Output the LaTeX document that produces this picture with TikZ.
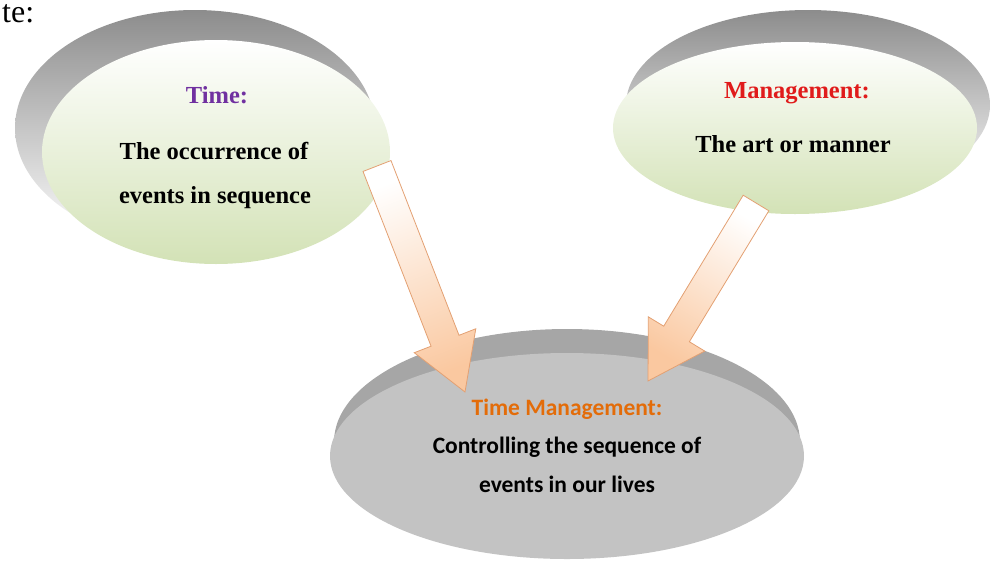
\documentclass[tikz,border=0pt]{standalone}
\usepackage{fontspec}
\setmainfont{Liberation Serif}
\newfontfamily\discsans{Carlito}
\usetikzlibrary{shapes.geometric,calc}

\definecolor{timepurple}{HTML}{7030A0}
\definecolor{mgmtred}{HTML}{E01B1B}
\definecolor{tmorange}{HTML}{E36C09}
\definecolor{palegreen}{HTML}{D3E2B6}
\definecolor{discgray}{HTML}{C3C3C3}
\definecolor{rimgray}{HTML}{A6A6A6}
\definecolor{peach}{HTML}{FAC8A0}
\definecolor{peachedge}{HTML}{E3A072}

\tikzset{
  greendisc/.style={ellipse, inner sep=0pt, top color=white, bottom color=palegreen},
  greyrim/.style={ellipse, inner sep=0pt, top color=black!45, bottom color=white},
  tmrimstyle/.style={ellipse, inner sep=0pt, fill=rimgray},
  tmdiscstyle/.style={ellipse, inner sep=0pt, fill=discgray},
  headtext/.style={anchor=base, font=\fontsize{24.5}{29}\selectfont\bfseries},
  bodytext/.style={anchor=base, font=\fontsize{24.5}{29}\selectfont\bfseries},
  sanstext/.style={anchor=base, font=\discsans\fontsize{23.5}{28}\selectfont\bfseries},
  bigarrowbody/.style={draw=peachedge, line width=0.8pt, top color=white, bottom color=peach}
}

% block arrow from tail coordinate to tip coordinate
\newcommand{\blockarrow}[2]{%
  \pgfmathanglebetweenpoints{\pgfpointanchor{#1}{center}}{\pgfpointanchor{#2}{center}}%
  \let\arrowangle\pgfmathresult
  \pgfpointdiff{\pgfpointanchor{#1}{center}}{\pgfpointanchor{#2}{center}}%
  \pgfgetlastxy{\arrowdx}{\arrowdy}%
  \pgfmathsetmacro{\arrowlen}{veclen(\arrowdx,\arrowdy)}%
  \pgfmathsetmacro{\arrowshade}{\arrowangle+90}%
  \begin{scope}[shift={(#1)}, rotate=\arrowangle]
    \shade[bigarrowbody, shading angle=\arrowshade] (0,-15) -- (\arrowlen-55,-15) -- (\arrowlen-55,-33)
      -- (\arrowlen,0) -- (\arrowlen-55,33) -- (\arrowlen-55,15) -- (0,15) -- cycle;
  \end{scope}}

\begin{document}
\begin{tikzpicture}[x=1pt, y=1pt]
    \useasboundingbox (0,0) rectangle (991,-563);

    % caption remnant
    \node[anchor=base west, inner sep=0pt, font=\fontsize{32}{36}\selectfont] (captiontail) at (2,-22) {te:};

    % top discs
    \node[greyrim, minimum width=360, minimum height=236] (timerim) at (195,-128) {};
    \node[greendisc, minimum width=348, minimum height=224] (timedisc) at (216,-152) {};
    \node[greyrim, minimum width=364, minimum height=190] (mgmtrim) at (808,-105) {};
    \node[greendisc, minimum width=364, minimum height=172] (mgmtdisc) at (795,-128) {};

    \node[headtext, text=timepurple] (timehead) at (217,-103) {Time:};
    \node[bodytext] (timeline1) at (214,-159) {The occurrence of};
    \node[bodytext] (timeline2) at (215,-203) {events in sequence};
    \node[headtext, text=mgmtred] (mgmthead) at (797,-98) {Management:};
    \node[bodytext] (mgmtline) at (793,-152) {The art or manner};

    % bottom disc
    \node[tmrimstyle, minimum width=466, minimum height=226] (tmrim) at (567,-442) {};
    \node[tmdiscstyle, minimum width=474, minimum height=206] (tmdisc) at (567,-456) {};

    % arrows
    \coordinate (timetail) at (377,-166);
    \coordinate (timetip) at (465,-392);
    \coordinate (mgmttail) at (756,-203);
    \coordinate (mgmttip) at (648,-381);
    \blockarrow{timetail}{timetip}
    \blockarrow{mgmttail}{mgmttip}

    \node[sanstext, text=tmorange] (tmhead) at (567,-415) {Time Management:};
    \node[sanstext] (tmline1) at (567,-453) {Controlling the sequence of};
    \node[sanstext] (tmline2) at (567,-492) {events in our lives};
\end{tikzpicture}
\end{document}
